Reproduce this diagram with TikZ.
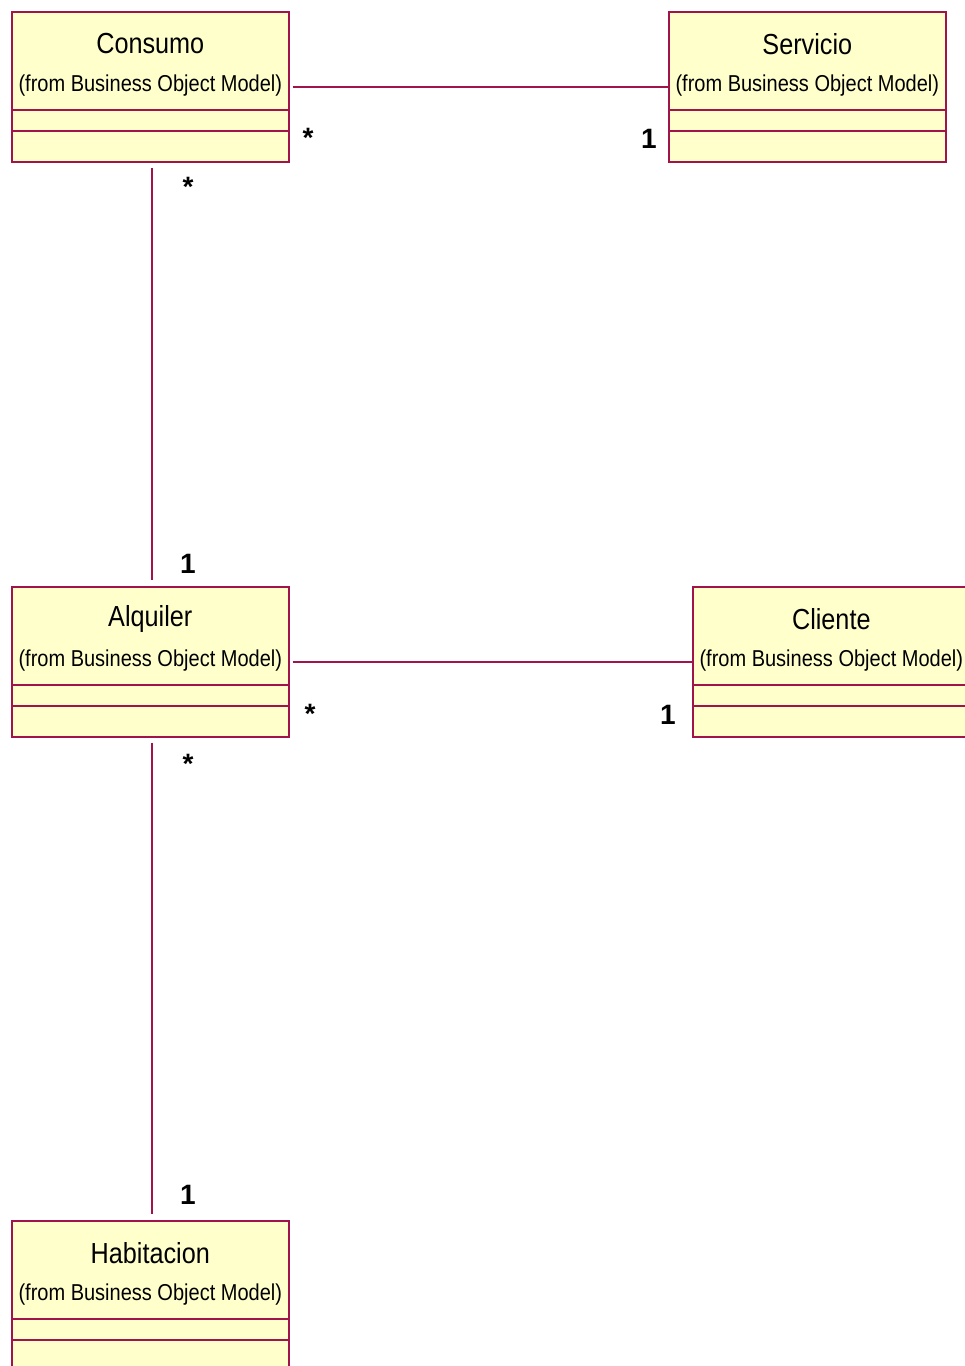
\documentclass[tikz,border=0pt]{standalone}
\usepackage{fontspec}
\setmainfont{Liberation Sans}
\usetikzlibrary{calc,positioning}

\definecolor{umlred}{RGB}{160,20,75}
\definecolor{umlfill}{RGB}{255,255,204}

\newcommand{\narrowtext}[1]{\scalebox{.87}[1]{#1}}

\tikzset{
  classbox/.style={rectangle, draw=umlred, fill=umlfill, line width=1.6pt,
    minimum width=277pt, minimum height=150pt, anchor=north west, inner sep=0pt},
  classname/.style={text=black, font=\fontsize{29}{33}\selectfont},
  classfrom/.style={text=black, font=\fontsize{23}{27}\selectfont},
  compline/.style={draw=umlred, line width=1.6pt},
  assoc/.style={draw=umlred, line width=1.4pt},
  mult/.style={anchor=base, text=black, font=\bfseries\fontsize{28}{32}\selectfont}
}

\begin{document}
\begin{tikzpicture}[x=1pt,y=-1pt]

  \useasboundingbox (0,0) rectangle (965,1366);

  \node (consumo) at (11,11) [classbox] {};
  \node (servicio) at (668,11) [classbox] {};
  \node (alquiler) at (11,586) [classbox] {};
  \node (cliente) at (692,586) [classbox] {};
  \node (habitacion) at (11,1220) [classbox] {};

  % titles and compartments
  \foreach \cls/\name in {consumo/Consumo, servicio/Servicio, alquiler/Alquiler,
                          cliente/Cliente, habitacion/Habitacion} {
    \node (\cls-name) at ($(\cls.north)+(0,33)$) [classname] {\narrowtext{\name}};
    \node (\cls-from) at ($(\cls.north)+(0,75)$) [classfrom] {\narrowtext{(from Business Object Model)}};
    \draw[compline] ($(\cls.north west)+(0,99)$) -- ($(\cls.north east)+(0,99)$);
    \draw[compline] ($(\cls.north west)+(0,120)$) -- ($(\cls.north east)+(0,120)$);
  }

  % associations
  \draw[assoc,shorten <=3pt] (consumo.east) -- (servicio.west);
  \draw[assoc,shorten <=3pt] (alquiler.east) -- (cliente.west);
  \draw[assoc,shorten <=5pt,shorten >=6pt] ($(consumo.south)+(1.5,0)$) -- ($(alquiler.north)+(1.5,0)$);
  \draw[assoc,shorten <=5pt,shorten >=6pt] ($(alquiler.south)+(1.5,0)$) -- ($(habitacion.north)+(1.5,0)$);

  % multiplicities
  \node (m-cs) at (308,147) [mult] {*};
  \node (m-sc) at (649,148) [mult] {1};
  \node (m-ca) at (188,196) [mult] {*};
  \node (m-ac) at (188,573) [mult] {1};
  \node (m-al) at (310,723) [mult] {*};
  \node (m-cl) at (668,724) [mult] {1};
  \node (m-ah) at (188,773) [mult] {*};
  \node (m-ha) at (188,1204) [mult] {1};

\end{tikzpicture}
\end{document}
